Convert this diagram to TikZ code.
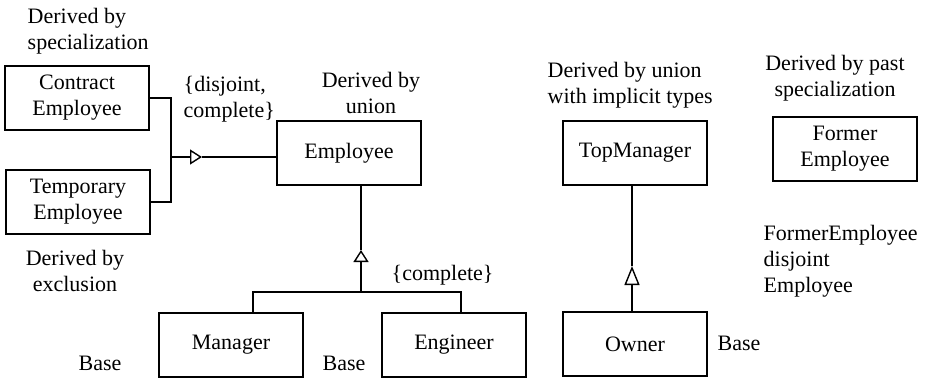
\documentclass[tikz,border=0pt]{standalone}
\usepackage{fontspec}
\setmainfont{Liberation Serif}
\usepackage{tikz}
\usetikzlibrary{arrows.meta}

\tikzset{
  entity/.style={draw, line width=1.4pt, minimum width=144pt, minimum height=64pt, inner sep=0pt, align=center},
  note/.style={inner sep=0pt, anchor=base west, align=left},
  cnote/.style={inner sep=0pt, anchor=base, align=center},
  gen/.style={-{Triangle[open, length=12pt, width=15pt]}},
  longgen/.style={-{Triangle[open, length=19pt, width=15pt]}}
}

\begin{document}
\begin{tikzpicture}[x=1pt, y=-1pt, line width=1.4pt,
  every node/.append style={font=\fontsize{22}{26}\selectfont}]
\useasboundingbox (0, 0) rectangle (929, 380);

\node[entity] (contract) at (77, 98) {Contract\\Employee};
\node[entity] (temporary) at (78, 202) {Temporary\\Employee};
\node[entity] (employee) at (349, 153) {Employee};
\node[entity] (manager) at (231, 345) {Manager};
\node[entity] (engineer) at (454, 345) {Engineer};
\node[entity] (topmanager) at (635, 153) {TopManager};
\node[entity] (owner) at (635, 344) {Owner};
\node[entity] (former) at (845, 149) {Former\\Employee};

\node[note] (specnote) at (27, 49) {Derived by\\specialization};
\node[note] (djnote) at (183, 117) {\{disjoint,\\complete\}};
\node[cnote] (unionnote) at (371, 113) {Derived by\\union};
\node[cnote] (exclnote) at (75, 291) {Derived by\\exclusion};
\node[note] (base1) at (78, 370) {Base};
\node[note] (base2) at (322, 370) {Base};
\node[note] (cmplnote) at (391, 280) {\{complete\}};
\node[note] (implnote) at (547, 103) {Derived by union\\with implicit types};
\node[note] (base3) at (717, 350) {Base};
\node[cnote] (pastnote) at (835, 96) {Derived by past\\specialization};
\node[note] (djfnote) at (763, 292) {FormerEmployee\\disjoint\\Employee};

\coordinate (spec) at (171, 157);
\coordinate (spectip) at (202, 157);
\draw (contract.east) -| (spec) |- (temporary.east);
\draw[gen] (spec) -- (spectip);
\draw (spectip) -- (spectip -| employee.west);

\coordinate (split) at (361, 292);
\coordinate (splittip) at (361, 250);
\coordinate (mgrup) at (253, 292);
\coordinate (engup) at (461, 292);
\draw[gen] (split) -- (splittip);
\draw (splittip) -- (splittip |- employee.south);
\draw (mgrup |- manager.north) -- (mgrup) -- (engup) -- (engup |- engineer.north);

\coordinate (owntip) at (632, 266);
\draw[longgen] (owntip |- owner.north) -- (owntip);
\draw (owntip) -- (owntip |- topmanager.south);
\end{tikzpicture}
\end{document}
